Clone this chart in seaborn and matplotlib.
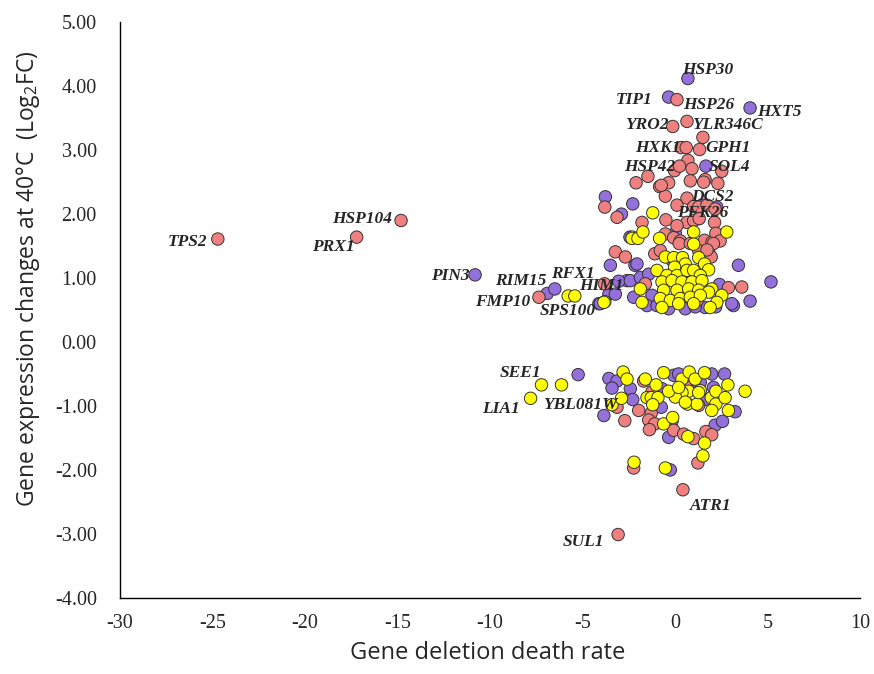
import matplotlib
matplotlib.use("Agg")
import matplotlib.pyplot as plt
import seaborn as sns
import pandas as pd

# Points (x = gene deletion death rate, y = log2FC)
purple_x = [-10.8, -6.9, -6.49, -3.49, -3.57, -3.22, -4.11, -2.59, -2.16, -2.43,
            0.70, -0.34, 4.06, 1.67, -3.76, -2.28, -2.89, 1.28, 1.46, 2.26, 0.02,
            -2.05, 3.43, 5.19, 4.06, 3.16,
            -3.04, -2.41, -1.87, -1.42, -2.23, -1.24, -4.03, -1.51, -0.97, -0.34,
            0.56, 1.63, 3.07, -0.16, 0.2, 1.1, 2.2, -0.6, 2.4,
            -5.23, -3.84, -3.57, -3.13, -3.40, -2.41, -2.28, -0.70, -0.74, -0.16,
            -0.34, 2.17, 2.57, -0.25, -0.07, 0.2, 1.99, 2.68, 1.37, 2.08, 3.25,
            0.9, 1.6]
purple_y = [1.05, 0.76, 0.83, 1.20, 0.75, 0.75, 0.60, 0.96, 1.20, 1.64,
            4.12, 3.83, 3.66, 2.75, 2.27, 2.16, 2.00, 1.93, 2.14, 2.11, 1.70,
            1.22, 1.20, 0.94, 0.64, 0.57,
            0.95, 0.96, 1.01, 1.06, 0.70, 0.73, 0.60, 0.57, 0.57, 0.52,
            0.52, 0.54, 0.60, 1.28, 0.96, 0.55, 0.55, 0.60, 0.90,
            -0.51, -1.15, -0.57, -0.61, -0.72, -0.73, -0.90, -0.73, -1.02, -1.24,
            -1.49, -1.30, -1.24, -2.00, -0.52, -0.50, -0.50, -0.50, -0.63, -0.71, -1.09,
            -0.62, -0.90]

salmon_x = [-24.7, -14.8, -17.2, -7.35, -3.22, -2.68, -3.81,
            0.11, -0.12, 0.65, 1.51, 0.34, 0.61, 1.33, 0.70, -0.02, 0.25, 0.92,
            2.53, -1.46, -2.10, -0.83, -0.34, 0.83, 1.63, 1.55, 2.32, -3.79,
            -3.13, -0.52, 0.65, 0.11, 1.01, 1.28, 1.73, 2.17, -1.78, -0.49,
            0.65, 1.01, 1.31, 2.14, 0.11, -0.74,
            -0.52, -0.07, 0.29, 1.6, 2.0, 2.21, 2.44, -1.09, -0.79, 1.28, 1.82,
            1.96, 2.89, 3.61, 0.23, 0.83, 2.08, -1.6, 1.73, 0.5, 1.2, 0.0,
            -3.13, -2.71, -1.96, -1.69, -1.28, -1.42, -1.09, -1.38, -0.07, 0.47,
            1.01, 1.67, 1.99, 1.24, -2.23, 0.43, -3.07, 1.28, -1.24, 0.6]
salmon_y = [1.61, 1.90, 1.64, 0.70, 1.41, 1.33, 0.91,
            3.79, 3.37, 3.45, 3.20, 3.04, 3.04, 3.01, 2.84, 2.68, 2.75, 2.71,
            2.67, 2.59, 2.49, 2.43, 2.49, 2.52, 2.54, 2.50, 2.48, 2.11,
            1.95, 2.28, 2.25, 2.14, 2.12, 2.11, 2.14, 2.08, 1.87, 1.91,
            1.87, 1.90, 1.93, 1.87, 1.82, 2.45,
            1.69, 1.63, 1.58, 1.59, 1.56, 1.70, 1.58, 1.38, 1.43, 1.43, 1.41,
            1.33, 0.85, 0.86, 1.54, 1.54, 1.54, 0.91, 1.44, 0.75, 0.65, 1.00,
            -1.02, -1.23, -1.07, -0.61, -1.11, -1.22, -1.28, -1.37, -1.38, -1.44,
            -1.51, -1.40, -1.45, -1.89, -1.97, -2.31, -3.01, -0.99, -0.78, -0.70]

yellow_x = [-5.77, -5.41, -3.79, -2.3, -1.2, -2.32, -2.0, -1.73, -0.83, 1.01,
            1.01, 2.80,
            -0.52, -0.07, 0.41, 1.28, 1.6, 1.82, 0.56, -0.02, -0.97, -0.43,
            0.11, 0.65, 1.01, 1.37, -0.70, -0.16, 0.38, 0.92, 1.46, 1.99,
            -0.61, 0.11, 0.74, 1.28, 1.82, 2.53, -0.79, -0.25, 0.29, 0.83,
            1.37, 2.26, -0.70, 0.20, 1.01, 1.90, -1.87, -1.78, -3.84,
            -7.21, -6.13, -7.8, -3.40, -2.80, -2.59, -2.89, -1.60, -1.02, -1.51,
            -1.28, -0.92, -1.2, -0.61, -0.12, 0.70, 1.6, 1.51, -2.21, -0.52,
            -0.61, 0.38, 0.77, 1.09, 1.6, 1.37, 0.74, 0.38, 0.02, -0.34,
            0.68, 1.19, 1.96, 2.21, 2.21, 2.71, 2.89, 1.99, 2.86, 3.79,
            0.2, 1.28, 0.56]
yellow_y = [0.72, 0.72, 0.63, 1.64, 2.02, 1.62, 1.62, 1.72, 1.62, 1.72,
            1.53, 1.72,
            1.33, 1.32, 1.32, 1.32, 1.22, 1.13, 1.22, 1.17, 1.12, 1.04,
            1.04, 1.12, 1.12, 1.04, 0.94, 0.96, 0.94, 0.94, 0.96, 0.83,
            0.81, 0.81, 0.83, 0.81, 0.78, 0.73, 0.68, 0.65, 0.68, 0.70,
            0.73, 0.62, 0.54, 0.60, 0.60, 0.54, 0.83, 0.62, 0.62,
            -0.67, -0.67, -0.88, -0.98, -0.47, -0.58, -0.88, -0.58, -0.67, -0.87,
            -0.87, -0.87, -0.98, -1.28, -1.18, -1.48, -1.58, -1.78, -1.88, -1.97,
            -0.48, -0.58, -0.47, -0.58, -0.48, -0.76, -0.77, -0.79, -0.86, -0.77,
            -0.97, -0.97, -0.87, -0.77, -0.97, -0.87, -1.07, -1.07, -0.67, -0.77,
            -0.71, -0.79, -0.94]

# Gene labels and where their text sits (left edge, vertical centre)
gene_names = ["HSP30", "TIP1", "HSP26", "HXT5", "YRO2", "YLR346C", "HXK1", "GPH1",
              "HSP42", "SOL4", "DCS2", "PFK26", "HSP104", "TPS2", "PRX1", "PIN3",
              "RIM15", "RFX1", "HIM1", "FMP10", "SPS100", "SEE1", "LIA1",
              "YBL081W", "ATR1", "SUL1"]
gene_x = [0.38, -3.18, 0.43, 4.42, -2.70, 0.92, -2.16, 1.62,
          -2.75, 1.83, 0.86, 0.11, -18.5, -27.4, -19.6, -13.2,
          -9.7, -6.68, -5.18, -10.78, -7.33, -9.49, -10.4,
          -7.12, 0.81, -6.04]
gene_y = [4.25, 3.79, 3.70, 3.59, 3.39, 3.39, 3.03, 3.03,
          2.73, 2.73, 2.26, 2.01, 1.92, 1.57, 1.49, 1.03,
          0.95, 1.07, 0.87, 0.62, 0.48, -0.49, -1.04,
          -0.99, -2.57, -3.12]

df = pd.DataFrame({
    "x": purple_x + salmon_x + yellow_x,
    "y": purple_y + salmon_y + yellow_y,
    "group": ["purple"] * len(purple_x) + ["salmon"] * len(salmon_x) + ["yellow"] * len(yellow_x),
})

sns.set_style("white")
plt.rcParams["axes.unicode_minus"] = False
serif = ["Liberation Serif", "DejaVu Serif"]

fig = plt.figure(figsize=(8.74, 6.74), dpi=100)
ax = fig.add_axes([0.137, 0.113, 0.847, 0.854])

sns.scatterplot(data=df, x="x", y="y", hue="group",
                palette={"purple": "#9370DB", "salmon": "#F08080", "yellow": "#FFFF00"},
                s=80, edgecolor="#333333", linewidth=0.7, legend=False, ax=ax)

for name, gx, gy in zip(gene_names, gene_x, gene_y):
    ax.text(gx, gy, name, ha="left", va="center", fontsize=12.5,
            fontstyle="italic", fontweight="bold", family=serif)

ax.set_xlim(-30, 10)
ax.set_ylim(-4, 5)
ax.set_xticks(range(-30, 11, 5))
ax.set_yticks(range(-4, 6))
ax.set_yticklabels([f"{v:.2f}" for v in range(-4, 6)])
for lab in ax.get_xticklabels() + ax.get_yticklabels():
    lab.set_family(serif)
    lab.set_fontsize(14.5)

ax.tick_params(direction="inout", length=9, width=1, color="black")
ax.tick_params(axis="y", pad=12)
ax.tick_params(axis="x", pad=7)
for side in ["top", "right"]:
    ax.spines[side].set_visible(False)
for side in ["left", "bottom"]:
    ax.spines[side].set_color("black")
    ax.spines[side].set_linewidth(1)

ax.set_xlabel("Gene deletion death rate", fontsize=17, family="Open Sans")
ax.set_ylabel("Gene expression changes at 40°C  (Log$\\mathregular{_2}$FC)",
              fontsize=16.5, family="Open Sans")
ax.xaxis.set_label_coords(0.497, -0.075)
ax.yaxis.set_label_coords(-0.105, 0.555)

fig.savefig("out.png", dpi=100)
